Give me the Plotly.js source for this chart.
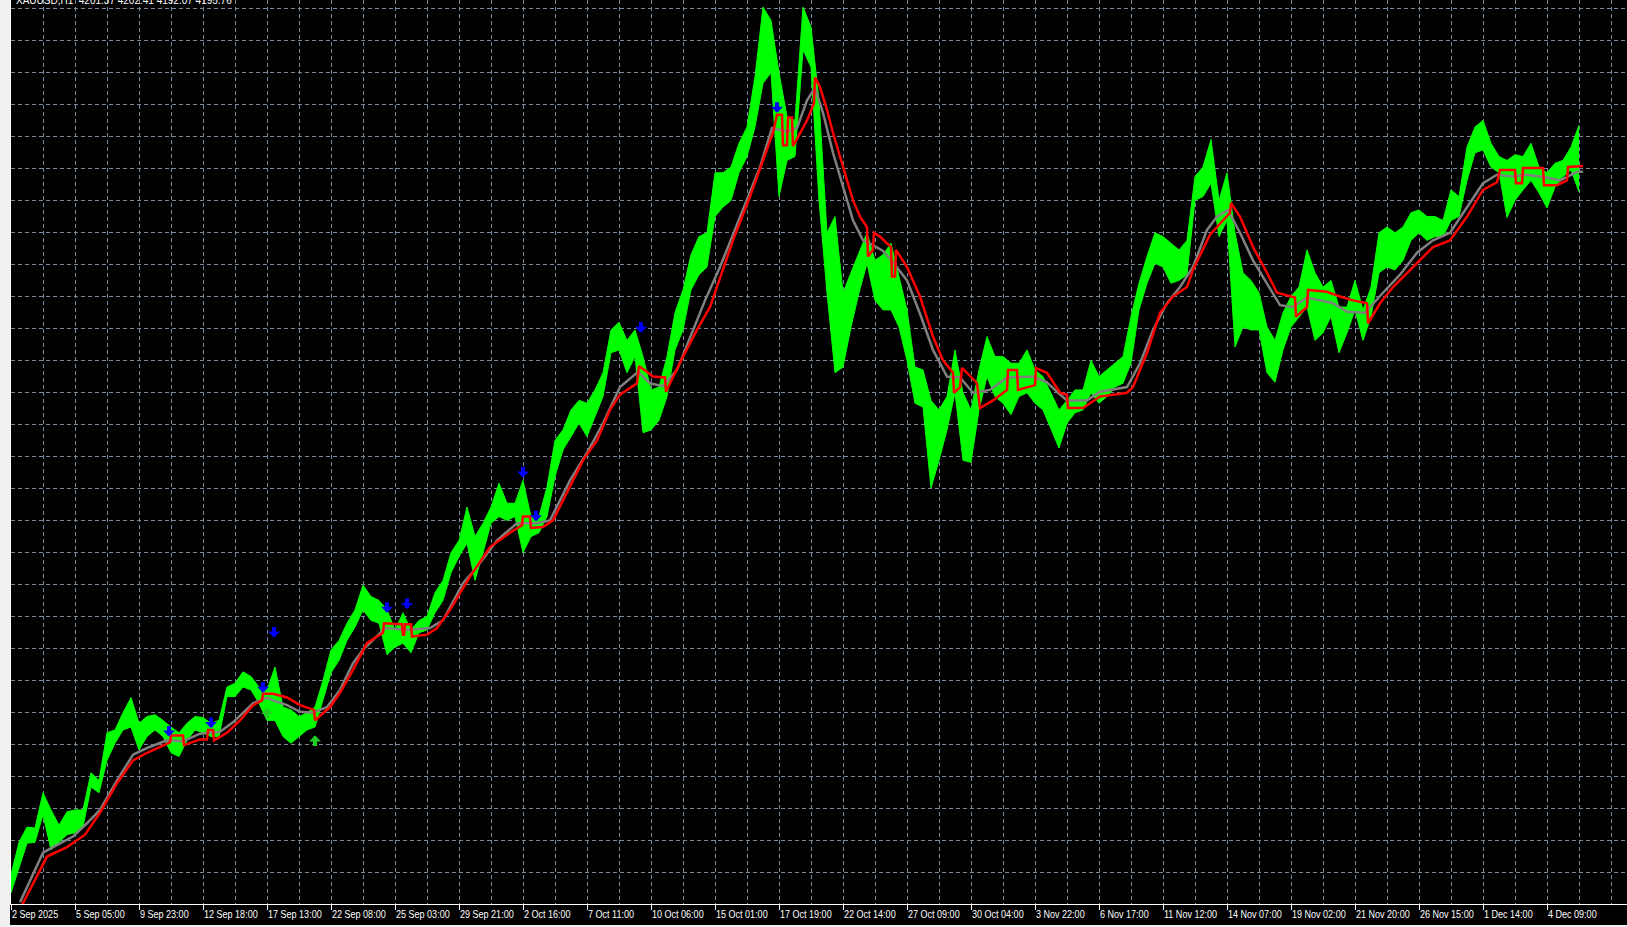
<!DOCTYPE html>
<html><head><meta charset="utf-8">
<script src="https://cdn.plot.ly/plotly-3.0.1.min.js"></script>
<style>
html,body{margin:0;padding:0;background:#f0f0f0;overflow:hidden;}
#chart{position:absolute;left:10px;top:0;width:1617px;height:925px;}
</style></head><body><div id="chart"></div>
<script>
const titleText = "XAUUSD,H1  4201.37 4202.41 4192.07 4195.76";
const tickBars = [0,64,128,192,256,320,384,448,512,576,640,704,768,832,896,960,1024,1088,1152,1216,1280,1344,1408,1472,1536];
const tickLabels = ["2 Sep 2025","5 Sep 05:00","9 Sep 23:00","12 Sep 18:00","17 Sep 13:00","22 Sep 08:00","25 Sep 03:00","29 Sep 21:00","2 Oct 16:00","7 Oct 11:00","10 Oct 06:00","15 Oct 01:00","17 Oct 19:00","22 Oct 14:00","27 Oct 09:00","30 Oct 04:00","3 Nov 22:00","6 Nov 17:00","11 Nov 12:00","14 Nov 07:00","19 Nov 02:00","21 Nov 20:00","26 Nov 15:00","1 Dec 14:00","4 Dec 09:00"];

// price samples every 8 bars (high / low)
const barStep = 8;
const greenHigh = [3470,3504,3520,3519,3556,3538,3522,3536,3538,3538,3577,3569,3619,3622,3640,3656,3629,3636,3638,3632,3625,3619,3629,3636,3635,3629,3632,3667,3671,3683,3678,3667,3664,3688,3646,3643,3636,3640,3646,3674,3706,3716,3734,3748,3774,3762,3758,3748,3727,3745,3727,3737,3741,3766,3779,3808,3821,3856,3825,3839,3856,3881,3860,3860,3884,3846,3846,3877,3926,3937,3958,3968,3965,3979,3997,4042,4050,4031,4042,4014,3979,3982,4014,4060,4084,4121,4140,4144,4207,4207,4213,4238,4255,4308,4381,4367,4312,4266,4262,4381,4360,4283,4144,4161,4081,4102,4123,4144,4115,4121,4133,4098,4063,4003,4000,3968,3958,3972,4021,3976,3958,4000,4035,4014,4014,4007,4007,4021,4000,3993,3976,3958,3968,3979,3979,4010,3993,4000,4007,4014,4056,4091,4119,4144,4140,4133,4126,4136,4203,4213,4242,4178,4207,4144,4102,4094,4081,4045,4031,4060,4077,4087,4126,4102,4087,4094,4066,4066,4094,4063,4087,4144,4150,4144,4150,4165,4168,4161,4161,4157,4189,4182,4234,4255,4262,4238,4224,4220,4226,4224,4238,4213,4207,4217,4220,4234,4257];
const greenLow = [3451,3477,3503,3504,3533,3496,3504,3512,3514,3520,3562,3556,3590,3608,3622,3625,3601,3615,3622,3615,3598,3594,3611,3622,3619,3615,3615,3657,3657,3667,3664,3650,3632,3632,3615,3608,3615,3622,3625,3653,3682,3695,3716,3730,3748,3737,3734,3701,3709,3713,3703,3724,3727,3745,3758,3787,3804,3818,3779,3808,3839,3846,3842,3846,3808,3825,3829,3846,3888,3916,3930,3944,3930,3951,3972,4018,4021,3997,4014,3934,3937,3947,3972,4021,4042,4084,4100,4108,4161,4171,4178,4207,4224,4255,4301,4312,4182,4220,4224,4336,4318,4178,4081,3997,4003,4045,4081,4112,4073,4063,4063,4045,4010,3965,3961,3876,3905,3937,3976,3905,3903,3958,3993,3972,3965,3953,3972,3976,3965,3958,3937,3918,3944,3955,3958,3976,3965,3972,3982,3986,4007,4063,4091,4112,4108,4091,4094,4100,4178,4182,4196,4140,4157,4024,4045,4042,4042,3997,3987,4021,4045,4056,4066,4031,4039,4056,4018,4039,4063,4031,4056,4102,4108,4105,4115,4136,4144,4136,4140,4140,4157,4161,4199,4228,4231,4213,4207,4160,4178,4189,4199,4186,4170,4192,4203,4210,4187];

// grey moving average
const maBars = [9,32,42,62,76,89,106,122,136,156,172,189,209,222,242,256,262,276,289,302,316,329,342,352,374,396,419,432,452,466,486,506,526,539,559,576,592,609,627,639,652,666,686,694,709,729,749,761,776,786,796,804,812,822,832,842,852,862,872,882,896,909,922,936,949,962,979,996,1022,1036,1046,1056,1076,1089,1116,1129,1142,1156,1169,1182,1196,1206,1217,1229,1242,1256,1269,1282,1296,1309,1322,1336,1354,1372,1389,1406,1422,1439,1456,1472,1486,1502,1516,1536,1549,1566,1572];
const maValues = [3441,3493,3499,3510,3524,3538,3569,3596,3603,3611,3610,3618,3620,3630,3650,3656,3653,3648,3641,3640,3646,3664,3692,3706,3729,3727,3729,3737,3776,3793,3821,3839,3839,3842,3884,3913,3944,3982,3998,3986,3983,4000,4052,4073,4108,4161,4213,4254,4250,4254,4283,4296,4270,4228,4192,4157,4136,4131,4125,4113,4094,4059,4021,3993,3992,3976,3979,3992,3993,3987,3977,3968,3968,3977,3982,4007,4042,4070,4087,4108,4147,4161,4168,4144,4115,4091,4068,4066,4076,4073,4070,4061,4060,4081,4100,4123,4136,4144,4171,4196,4205,4203,4205,4202,4199,4208,4208];

// red trailing band (flips side)
const bandBars = [11,36,56,74,89,106,122,136,159,160,172,173,189,196,197,202,203,216,229,242,251,252,262,276,289,303,304,319,329,342,356,372,373,391,392,393,394,400,401,416,426,439,459,479,499,511,512,519,520,532,542,559,572,586,599,609,626,628,642,654,655,672,686,699,706,722,739,752,762,766,771,772,776,777,781,782,796,803,804,809,816,822,829,836,842,849,856,857,862,863,869,880,881,884,885,896,909,922,932,942,943,949,951,956,966,969,982,996,997,1006,1007,1024,1025,1036,1049,1056,1057,1072,1089,1102,1116,1122,1136,1149,1162,1176,1182,1199,1209,1219,1220,1229,1242,1256,1266,1284,1285,1296,1297,1316,1329,1342,1356,1357,1369,1382,1402,1406,1422,1439,1456,1472,1486,1489,1504,1505,1511,1512,1532,1533,1546,1556,1557,1572];
const bandValues = [3438,3489,3499,3512,3535,3566,3590,3598,3609,3616,3616,3606,3612,3612,3622,3622,3611,3619,3632,3648,3653,3660,3660,3656,3648,3643,3632,3646,3661,3685,3713,3724,3734,3733,3722,3722,3733,3733,3720,3722,3729,3748,3783,3814,3829,3837,3846,3846,3834,3835,3842,3877,3905,3926,3958,3974,3986,4004,3993,3992,3977,4014,4042,4066,4087,4136,4182,4220,4249,4268,4268,4236,4236,4265,4265,4235,4262,4280,4307,4297,4273,4249,4224,4199,4178,4161,4150,4119,4126,4144,4140,4129,4098,4098,4126,4108,4077,4035,4010,3997,3976,3982,4002,3997,3986,3960,3968,3979,4000,4000,3979,3984,4002,3997,3976,3974,3960,3960,3972,3974,3976,3982,4018,4060,4077,4087,4105,4142,4154,4165,4175,4161,4129,4102,4081,4076,4056,4066,4084,4082,4077,4073,4070,4049,4070,4087,4108,4112,4129,4136,4161,4189,4197,4210,4210,4196,4196,4212,4212,4194,4194,4199,4213,4214];

// signal arrows (price at arrow tip)
const sellBars = [158,200,252,263,376,396,512,525,630,766];
const sellTips = [3615,3624,3661,3719,3745,3749,3887,3841,4039,4270];
const buyBars = [256,304];
const buyTips = [3645,3616];

const n = Math.min(greenHigh.length, greenLow.length);
const gx = [], gyHi = [], gyLo = [];
for (let k = 0; k < n; k++) {
  gx.push(k * barStep);
  gyHi.push(greenHigh[k]);
  gyLo.push(greenLow[k]);
}

const lime = '#00ff00';
const gridCol = '#778899';
const traces = [
  {type:'scatter', mode:'lines', x:gx, y:gyLo, line:{color:lime, width:1}, hoverinfo:'skip'},
  {type:'scatter', mode:'lines', x:gx, y:gyHi, line:{color:lime, width:1}, fill:'tonexty', fillcolor:lime, hoverinfo:'skip'},
  {type:'scatter', mode:'lines', x:maBars, y:maValues, line:{color:'#808080', width:2.5}, hoverinfo:'skip'},
  {type:'scatter', mode:'lines', x:bandBars, y:bandValues, line:{color:'#ff0000', width:2.5}, hoverinfo:'skip'}
];

const arrows = [];
sellBars.forEach((b, k) => arrows.push({x:b, y:sellTips[k], xref:'x', yref:'y', text:'', showarrow:true,
  ax:0, ay:-12, arrowhead:1, arrowsize:0.5, arrowwidth:4, arrowcolor:'#0000ff', standoff:0}));
buyBars.forEach((b, k) => arrows.push({x:b, y:buyTips[k], xref:'x', yref:'y', text:'', showarrow:true,
  ax:0, ay:12, arrowhead:1, arrowsize:0.5, arrowwidth:4, arrowcolor:'#22cc22', standoff:0}));

const sans = '"Liberation Sans", Arial, sans-serif';
const layout = {
  width:1617, height:925,
  margin:{l:1, r:0, t:0, b:21, pad:0},
  paper_bgcolor:'#000000', plot_bgcolor:'#000000',
  showlegend:false,
  font:{family:sans, color:'#ffffff', size:11},
  xaxis:{
    range:[0,1616], tickmode:'array', tickvals:tickBars, ticktext:tickLabels,
    tickangle:0,
    ticks:'outside', ticklen:5, tickwidth:1, tickcolor:'#ffffff',
    ticklabelposition:'outside right',
    tickfont:{family:sans, color:'#ffffff', size:11},
    showline:true, linecolor:'#ffffff', linewidth:1,
    showgrid:true, gridcolor:gridCol, gridwidth:1, griddash:'4px,3px',
    minor:{dtick:32, tick0:0, showgrid:true, gridcolor:gridCol, gridwidth:1, griddash:'4px,3px', ticks:''},
    zeroline:false, fixedrange:true
  },
  yaxis:{
    range:[3439.2,4388.4], tickmode:'linear', tick0:4380, dtick:33.6,
    showticklabels:false, ticks:'',
    showline:true, linecolor:'#ffffff', linewidth:1,
    showgrid:true, gridcolor:gridCol, gridwidth:1, griddash:'4px,3px',
    zeroline:false, fixedrange:true
  },
  annotations:[{
    xref:'paper', yref:'paper', x:0, y:1, xanchor:'left', yanchor:'bottom',
    xshift:3, yshift:-8, showarrow:false, text:titleText,
    font:{family:sans, color:'#ffffff', size:10}
  }].concat(arrows)
};

Plotly.newPlot('chart', traces, layout, {staticPlot:true, displayModeBar:false}).then(function () {
  document.querySelectorAll('#chart .xtick text').forEach(function (t) {
    const w = t.getComputedTextLength();
    t.setAttribute('textLength', (w * 0.82).toFixed(2));
    t.setAttribute('lengthAdjust', 'spacingAndGlyphs');
  });
});
</script></body></html>
